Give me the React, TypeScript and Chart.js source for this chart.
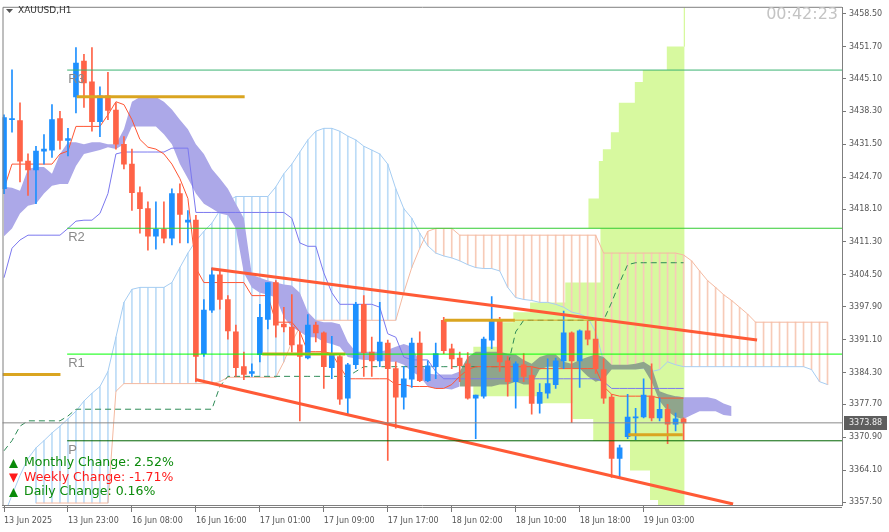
import React, { useEffect, useRef } from 'react';
import { Chart, registerables } from 'chart.js';
Chart.register(...registerables);

// ---------- DATA ----------
const open = [3422.3, 3436.6, 3436.4, 3428.0, 3426.2, 3430.1, 3430.3, 3436.8, 3432.3, 3441.3,
  3448.7, 3444.4, 3436.2, 3441.5, 3438.6, 3431.5, 3427.4, 3421.5, 3418.2, 3412.5,
  3413.9, 3412.1, 3421.3, 3415.4, 3415.8, 3388.2, 3397.2, 3404.5, 3399.4, 3392.7,
  3385.5, 3384.1, 3388.0, 3395.3, 3402.9, 3394.3, 3393.7, 3390.0, 3387.3, 3394.1,
  3392.5, 3385.3, 3387.6, 3379.0, 3385.9, 3398.4, 3388.5, 3386.7, 3390.4, 3385.1,
  3379.2, 3382.9, 3390.4, 3382.6, 3385.5, 3395.1, 3389.2, 3387.3, 3386.1, 3379.0,
  3379.4, 3391.0, 3395.3, 3386.7, 3382.4, 3385.9, 3383.7, 3377.9, 3380.0, 3381.8,
  3386.7, 3392.5, 3386.7, 3392.9, 3391.2, 3384.9, 3379.2, 3366.5, 3371.0, 3374.9,
  3375.1, 3379.4, 3374.9, 3376.7, 3373.6, 3374.7];
const high = [3437.6, 3446.9, 3440.1, 3429.5, 3431.1, 3433.5, 3439.7, 3438.3, 3434.8, 3451.5,
  3450.1, 3451.5, 3443.4, 3446.4, 3440.1, 3433.1, 3430.5, 3422.7, 3419.6, 3419.6,
  3419.6, 3422.3, 3423.3, 3417.8, 3416.8, 3399.4, 3405.9, 3405.3, 3400.2, 3394.1,
  3388.5, 3386.1, 3398.4, 3402.9, 3403.3, 3397.8, 3400.4, 3392.7, 3396.3, 3394.7,
  3392.7, 3391.8, 3388.0, 3386.2, 3398.8, 3400.2, 3391.6, 3398.8, 3391.0, 3386.5,
  3385.5, 3391.4, 3392.7, 3386.7, 3390.4, 3395.7, 3390.2, 3388.5, 3388.4, 3379.6,
  3391.6, 3400.0, 3395.7, 3387.6, 3386.5, 3388.2, 3385.5, 3382.0, 3387.1, 3387.3,
  3397.0, 3392.7, 3393.1, 3394.9, 3395.1, 3387.1, 3379.8, 3369.3, 3379.8, 3376.9,
  3383.0, 3386.1, 3379.0, 3377.7, 3375.9, 3374.9];
const low = [3421.3, 3434.0, 3423.7, 3420.9, 3419.2, 3427.4, 3428.8, 3430.5, 3429.1, 3438.0,
  3439.1, 3434.2, 3433.1, 3436.6, 3430.5, 3426.4, 3417.8, 3413.1, 3409.6, 3409.8,
  3411.1, 3410.7, 3411.1, 3411.1, 3382.4, 3387.6, 3396.7, 3397.4, 3391.2, 3383.5,
  3382.8, 3383.5, 3386.5, 3393.3, 3391.6, 3392.7, 3388.5, 3374.3, 3387.1, 3390.6,
  3381.0, 3383.0, 3377.7, 3375.7, 3385.1, 3383.5, 3383.5, 3385.5, 3366.1, 3372.8,
  3376.7, 3381.2, 3382.4, 3382.4, 3383.0, 3388.2, 3385.1, 3382.4, 3378.8, 3370.6,
  3379.0, 3389.2, 3384.5, 3379.4, 3376.9, 3382.4, 3375.7, 3375.9, 3379.0, 3381.0,
  3385.1, 3373.9, 3381.2, 3390.0, 3384.1, 3377.9, 3362.6, 3362.4, 3370.6, 3370.4,
  3374.9, 3374.3, 3374.3, 3369.6, 3372.2, 3370.4];
const close = [3437.0, 3436.8, 3428.0, 3426.2, 3430.1, 3430.5, 3436.6, 3432.3, 3432.7, 3448.3,
  3444.2, 3436.2, 3441.5, 3438.5, 3431.5, 3427.4, 3421.5, 3418.2, 3412.5, 3413.9,
  3412.1, 3421.3, 3417.0, 3415.8, 3387.6, 3397.2, 3404.5, 3399.4, 3392.9, 3385.3,
  3383.9, 3384.5, 3395.7, 3402.9, 3394.1, 3393.7, 3390.0, 3387.6, 3394.1, 3392.5,
  3385.5, 3388.0, 3378.8, 3385.9, 3398.4, 3388.4, 3386.7, 3390.6, 3385.1, 3379.2,
  3383.0, 3390.4, 3382.6, 3385.7, 3388.2, 3388.8, 3387.1, 3385.7, 3379.0, 3379.6,
  3391.2, 3395.3, 3386.5, 3382.4, 3386.1, 3383.5, 3377.9, 3380.2, 3382.0, 3386.7,
  3392.5, 3386.7, 3392.9, 3391.2, 3385.1, 3379.0, 3366.5, 3368.7, 3375.1, 3375.1,
  3379.6, 3374.9, 3376.7, 3373.6, 3374.7, 3373.88];

const tenkan = [3422.3, 3427.4, 3427.4, 3427.4, 3427.4, 3427.4, 3427.4, 3429.5, 3430.1, 3435.2,
  3435.2, 3435.2, 3435.2, 3437.6, 3440.3, 3439.7, 3436.6, 3432.5, 3430.9, 3430.5,
  3429.5, 3427.4, 3424.4, 3420.3, 3405.9, 3402.9, 3402.9, 3402.9, 3402.9, 3402.9,
  3402.9, 3400.2, 3400.2, 3400.2, 3394.7, 3394.7, 3394.7, 3392.7, 3388.6, 3388.6,
  3388.6, 3388.2, 3385.5, 3383.0, 3383.0, 3383.0, 3383.0, 3383.0, 3383.0, 3381.8,
  3381.8, 3381.4, 3381.4, 3381.4, 3381.0, 3381.0, 3381.8, 3383.5, 3384.9, 3385.5,
  3385.5, 3385.5, 3385.5, 3385.5, 3385.5, 3385.5, 3385.5, 3385.1, 3385.1, 3385.1,
  3385.1, 3385.1, 3385.1, 3385.1, 3385.1, 3381.4, 3379.8, 3379.4, 3379.4, 3379.4,
  3379.4, 3379.4, 3379.0, 3379.0, 3379.0, 3379.0];
const kijun = [3403.9, 3410.0, 3411.7, 3412.7, 3412.7, 3412.7, 3412.7, 3412.7, 3414.1, 3415.6,
  3415.8, 3415.8, 3417.2, 3421.3, 3429.5, 3429.9, 3429.9, 3429.9, 3429.9, 3429.9,
  3429.9, 3430.7, 3430.7, 3430.7, 3417.4, 3417.4, 3417.4, 3417.4, 3417.4, 3417.4,
  3417.4, 3417.4, 3417.4, 3417.4, 3417.4, 3417.4, 3416.2, 3411.1, 3410.4, 3410.4,
  3404.9, 3400.8, 3398.4, 3398.4, 3398.4, 3398.4, 3398.4, 3397.8, 3392.3, 3391.6,
  3387.5, 3386.9, 3386.9, 3386.9, 3384.5, 3383.0, 3383.0, 3383.0, 3383.0, 3383.0,
  3383.0, 3383.0, 3383.0, 3383.0, 3383.0, 3383.0, 3383.0, 3383.0, 3383.0, 3383.0,
  3383.0, 3383.0, 3383.0, 3383.0, 3383.0, 3382.4, 3381.0, 3381.0, 3381.0, 3381.0,
  3381.0, 3381.0, 3381.0, 3381.0, 3381.0, 3381.0];
const chikou = [3368.1, 3370.2, 3373.2, 3374.3, 3374.3, 3374.3, 3374.3, 3374.3, 3375.3, 3376.7,
  3376.7, 3376.7, 3376.7, 3376.7, 3376.7, 3376.7, 3376.7, 3376.7, 3376.7, 3376.7,
  3376.7, 3376.7, 3376.7, 3376.7, 3376.7, 3376.7, 3376.7, 3381.4, 3383.5, 3383.5,
  3383.5, 3383.5, 3383.5, 3383.5, 3383.5, 3383.5, 3383.5, 3383.5, 3383.5, 3383.5,
  3383.5, 3383.5, 3383.5, 3383.5, 3384.5, 3385.5, 3385.5, 3385.5, 3385.5, 3385.5,
  3385.5, 3385.5, 3385.5, 3385.5, 3385.5, 3385.5, 3385.5, 3385.5, 3385.5, 3385.5,
  3385.5, 3385.5, 3385.5, 3385.5, 3392.7, 3395.1, 3395.1, 3395.1, 3395.1, 3395.1,
  3395.1, 3395.1, 3395.1, 3395.1, 3395.1, 3395.1, 3398.8, 3402.9, 3406.6, 3407.0,
  3407.0, 3407.0, 3407.0, 3407.0, 3407.0, 3407.0];

const spanA = [3354.8, 3358.9, 3363.0, 3366.5, 3368.7, 3370.2, 3371.8, 3373.2, 3374.7, 3376.3,
  3378.4, 3380.0, 3381.4, 3384.5, 3391.6, 3398.8, 3401.5, 3401.9, 3401.9, 3401.9,
  3401.9, 3402.9, 3406.0, 3409.0, 3411.5, 3413.5, 3415.2, 3417.8, 3419.7, 3420.7,
  3420.7, 3420.7, 3420.7, 3420.7, 3422.7, 3425.4, 3427.4, 3429.9, 3432.4, 3434.2,
  3434.8, 3434.8, 3434.2, 3433.2, 3432.4, 3431.1, 3430.3, 3429.5, 3427.4, 3422.3,
  3418.2, 3416.2, 3413.1, 3410.5, 3409.0, 3408.4, 3408.0, 3407.4, 3406.6, 3406.0,
  3405.8, 3405.8, 3405.3, 3401.9, 3399.8, 3399.4, 3399.2, 3398.8, 3398.8, 3398.4,
  3397.8, 3396.8, 3396.4, 3395.7, 3392.7, 3386.5, 3385.1, 3385.1, 3385.1, 3385.1,
  3385.1, 3384.5, 3384.9, 3386.5, 3385.9, 3385.5, 3385.5, 3385.5, 3385.5, 3385.5,
  3385.5, 3385.5, 3385.5, 3385.5, 3385.5, 3385.5, 3385.5, 3385.5, 3385.5, 3385.5,
  3385.5, 3384.9, 3382.4, 3381.8];
const spanB = [null, null, null, null, 3357.3, 3357.3, 3357.3, 3357.3, 3357.3, 3357.3,
  3357.3, 3357.3, 3357.3, 3357.3, 3380.4, 3382.0, 3382.0, 3382.0, 3382.0, 3382.0,
  3382.0, 3382.0, 3382.0, 3382.0, 3382.0, 3382.0, 3382.0, 3382.4, 3383.3, 3383.3,
  3383.3, 3383.3, 3383.3, 3383.3, 3383.3, 3386.5, 3390.6, 3393.7, 3395.1, 3395.1,
  3395.1, 3395.1, 3395.1, 3395.1, 3395.1, 3395.1, 3395.1, 3395.1, 3395.1, 3395.1,
  3400.8, 3406.0, 3410.0, 3413.5, 3414.1, 3414.1, 3414.1, 3412.7, 3412.7, 3412.7,
  3412.7, 3412.7, 3412.7, 3412.7, 3412.7, 3412.7, 3412.7, 3412.7, 3412.7, 3412.7,
  3412.7, 3412.7, 3412.7, 3412.7, 3412.7, 3409.0, 3409.0, 3409.0, 3409.0, 3409.0,
  3409.0, 3409.0, 3409.0, 3409.0, 3409.0, 3408.6, 3407.4, 3405.3, 3403.3, 3401.9,
  3400.4, 3399.2, 3397.8, 3396.4, 3394.7, 3394.7, 3394.7, 3394.7, 3394.7, 3394.7,
  3394.7, 3394.7, 3394.7, 3394.7];

const cloudTop = [3422.7, 3422.5, 3421.9, 3426.4, 3426.8, 3426.8, 3425.4, 3429.5, 3431.9, 3431.9,
  3431.5, 3431.9, 3431.9, 3431.5, 3431.5, 3434.6, 3440.3, 3441.3, 3441.3, 3441.3,
  3440.3, 3438.7, 3436.6, 3434.6, 3431.5, 3429.5, 3426.4, 3424.4, 3422.3, 3419.2,
  3416.2, 3404.5, 3403.9, 3403.3, 3402.9, 3402.5, 3402.3, 3400.8, 3396.8, 3395.1,
  3394.7, 3394.7, 3394.3, 3390.6, 3388.6, 3388.6, 3388.6, 3388.6, 3389.0, 3389.6,
  3390.2, 3389.6, 3386.5, 3384.1, 3383.9, 3383.9, 3383.9, 3384.5, 3387.5, 3388.6,
  3388.6, 3388.6, 3388.6, 3388.2, 3388.0, 3386.9, 3386.1, 3387.5, 3388.0, 3388.0,
  3386.5, 3386.1, 3386.9, 3387.5, 3388.0, 3387.5, 3385.9, 3385.9, 3385.9, 3386.1,
  3386.5, 3385.5, 3380.4, 3379.8, 3379.4, 3379.2, 3379.2, 3379.2, 3379.2, 3378.8,
  3377.9, 3377.3];
const cloudBottom = [3412.5, 3414.1, 3417.2, 3418.8, 3419.2, 3421.3, 3422.9, 3423.3, 3423.3, 3427.0,
  3429.5, 3429.9, 3430.3, 3430.9, 3430.5, 3431.5, 3435.2, 3435.2, 3435.2, 3435.2,
  3433.6, 3431.5, 3427.4, 3424.4, 3421.3, 3419.2, 3418.2, 3417.2, 3416.8, 3414.1,
  3404.9, 3401.9, 3400.8, 3400.4, 3399.8, 3395.7, 3393.7, 3392.7, 3391.6, 3391.6,
  3390.6, 3390.2, 3389.6, 3387.5, 3387.2, 3386.9, 3386.9, 3386.9, 3386.5, 3386.5,
  3385.9, 3384.5, 3383.5, 3381.4, 3381.0, 3381.0, 3380.8, 3381.4, 3381.4, 3381.4,
  3381.4, 3381.4, 3381.8, 3381.8, 3382.4, 3381.8, 3381.8, 3384.9, 3385.5, 3385.5,
  3385.1, 3385.1, 3385.1, 3383.5, 3382.4, 3382.9, 3384.9, 3384.9, 3384.9, 3384.9,
  3385.1, 3382.4, 3378.4, 3376.3, 3375.1, 3374.7, 3375.5, 3376.3, 3376.3, 3376.3,
  3375.5, 3375.3];

// volume profile: row boundaries (top -> bottom) and left edge of each row (bar index)
const vpLevels = [3451.75, 3446.85, 3444.39, 3440.10, 3433.97, 3430.49, 3428.04, 3420.27, 3414.14, 3402.89,
  3398.80, 3396.75, 3394.71, 3389.60, 3379.37, 3377.94, 3374.67, 3370.17, 3364.04, 3357.91, 3356.7];
const vpLeft = [82.9, 79.9, 78.9, 76.9, 75.9, 74.9, 74.4, 73.1, 74.6, 70.2,
  65.8, 63.7, 62.1, 58.7, 67.1, 71.1, 73.7, 78.3, 80.8, 81.8];
const vpRight = 85.1;

const pivotNames = ['R3', 'R2', 'R1', 'P'];
const pivotValues = [3446.85, 3414.13, 3388.1, 3370.17];
const pivotStart = 7.9;
const bidPrice = 3373.88;

// orange levels: [price, fromIndex, toIndex, width]
const orangePrice = [3441.33, 3383.87, 3395.12, 3395.12, 3371.4, 3388.1];
const orangeFrom = [9.1, -0.2, 55.06, 63.9, 78.1, 32.3];
const orangeTo = [30.1, 7.06, 63.9, 75.4, 84.9, 42.7];
const orangeWidth = [3, 3, 3, 1, 3, 3];

// trend channel
const chanUpper = [{ x: 25.94, y: 3405.75 }, { x: 94.19, y: 3391.03 }];
const chanLower = [{ x: 23.94, y: 3382.85 }, { x: 91.19, y: 3357.09 }];

const xTickIdx = [0, 8, 16, 24, 32, 40, 48, 56, 64, 72, 80];
const xTickLabels = ['13 Jun 2025', '13 Jun 23:00', '16 Jun 08:00', '16 Jun 16:00', '17 Jun 01:00',
  '17 Jun 09:00', '17 Jun 17:00', '18 Jun 02:00', '18 Jun 10:00', '18 Jun 18:00', '19 Jun 03:00'];
const yTicks = [3458.5, 3451.7, 3445.1, 3438.3, 3431.5, 3424.7, 3418.1, 3411.3, 3404.5, 3397.9,
  3391.1, 3384.3, 3377.7, 3370.9, 3364.1, 3357.5];

const changeLabels = ['Monthly Change: 2.52%', 'Weekly Change: -1.71%', 'Daily Change: 0.16%'];
const changeUp = [true, false, true];

// ---------- COLORS ----------
const UP = '#1e90ff';
const DOWN = '#ff6347';

export default function App() {
  const ref = useRef<HTMLCanvasElement | null>(null);
  useEffect(() => {
    document.body.style.margin = '0';
    document.body.style.overflow = 'hidden';
    const canvas = ref.current!;
    const colors = open.map((o, i) => (close[i] >= o ? UP : DOWN));
    const pts = (arr: (number | null)[]) => arr.map((v, i) => ({ x: i, y: v }));

    const vpPoly: { x: number; y: number }[] = [{ x: vpRight, y: vpLevels[0] }];
    vpLeft.forEach((l, k) => {
      vpPoly.push({ x: l, y: vpLevels[k] });
      vpPoly.push({ x: l, y: vpLevels[k + 1] });
    });
    vpPoly.push({ x: vpRight, y: vpLevels[vpLevels.length - 1] });

    const hatch: any[] = [];
    const hatchColors: string[] = [];
    spanA.forEach((a, i) => {
      const b = spanB[i];
      if (a != null && b != null) {
        hatch.push({ x: i, y: [a, b] });
        hatchColors.push(a >= b ? '#bcdcf7' : '#f7cbb8');
      }
    });

    const purpleTop = cloudTop.map((v, i) => (i <= 57 || i >= 84 ? v : null));
    const purpleBot = cloudBottom.map((v, i) => (i <= 57 || i >= 84 ? v : null));
    const grayTop = cloudTop.map((v, i) => (i >= 57 && i <= 85 ? v : null));
    const grayBot = cloudBottom.map((v, i) => (i >= 57 && i <= 85 ? v : null));

    const line = (data: any[], color: string, width: number, order: number, extra: any = {}) => ({
      type: 'line', data, borderColor: color, borderWidth: width, pointRadius: 0, order, fill: false, tension: 0, ...extra,
    });

    const datasets: any[] = [];
    // objects on top
    pivotValues.forEach((v, k) => {
      const col = ['#3cb371', '#33cc33', '#00ff00', '#006400'][k];
      datasets.push(line([{ x: pivotStart, y: v }, { x: 105, y: v }], col, 1, 0));
    });
    datasets.push(line([{ x: -1, y: bidPrice }, { x: 105, y: bidPrice }], '#8a8a8a', 1, 0));
    datasets.push(line(chanUpper, '#ff5a36', 3, 0));
    datasets.push(line(chanLower, '#ff5a36', 3, 0));
    orangePrice.forEach((p, k) => {
      datasets.push(line([{ x: orangeFrom[k], y: p }, { x: orangeTo[k], y: p }], '#daa520', orangeWidth[k], 0.5));
    });
    // candles
    datasets.push({ type: 'bar', data: open.map((o, i) => ({ x: i, y: [o, close[i]] })), backgroundColor: colors,
      barThickness: 5, grouped: false, minBarLength: 1, order: 1 });
    datasets.push({ type: 'bar', data: low.map((l, i) => ({ x: i, y: [l, high[i]] })), backgroundColor: colors,
      barThickness: 1, grouped: false, order: 2 });
    // indicator lines
    datasets.push(line(pts(tenkan), '#ff5533', 1, 4));
    datasets.push(line(pts(kijun), '#7b78ef', 1, 4));
    datasets.push(line(pts(chikou), '#2e8b57', 1, 4, { borderDash: [6, 4] }));
    // filled cloud (purple and gray)
    datasets.push(line(pts(purpleTop), 'rgba(0,0,0,0)', 0, 8, { fill: '+1', backgroundColor: '#aca8e8' }));
    datasets.push(line(pts(purpleBot), 'rgba(0,0,0,0)', 0, 8));
    datasets.push(line(pts(grayTop), 'rgba(0,0,0,0)', 0, 7.5, { fill: '+1', backgroundColor: '#8fa58c' }));
    datasets.push(line(pts(grayBot), 'rgba(0,0,0,0)', 0, 7.5));
    // hatched cloud
    datasets.push(line(pts(spanA), '#a6cdf2', 1, 85));
    datasets.push(line(pts(spanB), '#f4b9a0', 1, 85));
    datasets.push({ type: 'bar', data: hatch, backgroundColor: hatchColors, barThickness: 1, grouped: false, order: 90 });
    // volume profile
    datasets.push(line(vpPoly, 'rgba(0,0,0,0)', 0, 100, { fill: 'shape', backgroundColor: '#d7f99f' }));
    datasets.push(line([{ x: vpRight, y: 3470 }, { x: vpRight, y: vpLevels[0] }], '#d7f99f', 1, 100));

    const textPlugin = {
      id: 'mt4text',
      afterDraw(chart: any) {
        const ctx = chart.ctx;
        const xs = chart.scales.x;
        const ys = chart.scales.y;
        const a = chart.chartArea;
        ctx.save();
        // frame
        ctx.strokeStyle = '#7f7f7f';
        ctx.lineWidth = 1;
        ctx.beginPath();
        ctx.moveTo(a.left + 0.5, a.bottom);
        ctx.lineTo(a.left + 0.5, a.top - 0.5);
        ctx.lineTo(a.right, a.top - 0.5);
        ctx.stroke();
        ctx.beginPath();
        ctx.moveTo(a.left, a.bottom + 2.5);
        ctx.lineTo(a.right, a.bottom + 2.5);
        ctx.stroke();
        // title
        ctx.fillStyle = '#555';
        ctx.beginPath();
        ctx.moveTo(6, 9); ctx.lineTo(13, 9); ctx.lineTo(9.5, 13); ctx.closePath(); ctx.fill();
        ctx.fillStyle = '#333';
        ctx.font = '9px "DejaVu Sans"';
        ctx.textBaseline = 'middle';
        ctx.textAlign = 'left';
        ctx.fillText('XAUUSD,H1', 18, 11);
        // clock
        ctx.fillStyle = '#c4c4c4';
        ctx.font = '16px "DejaVu Sans"';
        ctx.textAlign = 'right';
        ctx.fillText('00:42:23', 838, 15);
        // pivot labels
        ctx.textAlign = 'left';
        ctx.textBaseline = 'top';
        ctx.font = '13px "Liberation Sans"';
        ctx.fillStyle = '#8a8a8a';
        pivotNames.forEach((n, k) => {
          ctx.fillText(n, xs.getPixelForValue(pivotStart) + 1, ys.getPixelForValue(pivotValues[k]) + 3);
        });
        // change labels
        ctx.font = '12.5px "DejaVu Sans"';
        ctx.textBaseline = 'middle';
        changeLabels.forEach((t, k) => {
          const cy = 463 + k * 14.5;
          const col = changeUp[k] ? '#0a8a0a' : '#ff1a1a';
          ctx.fillStyle = col;
          ctx.beginPath();
          if (changeUp[k]) { ctx.moveTo(9, cy + 5); ctx.lineTo(18, cy + 5); ctx.lineTo(13.5, cy - 4); }
          else { ctx.moveTo(9, cy - 4); ctx.lineTo(18, cy - 4); ctx.lineTo(13.5, cy + 5); }
          ctx.closePath(); ctx.fill();
          ctx.fillText(t, 24, cy);
        });
        // bid price box
        const by = ys.getPixelForValue(bidPrice);
        ctx.fillStyle = '#5e5e5e';
        ctx.fillRect(a.right + 2, Math.round(by) - 7, 43, 14);
        ctx.fillStyle = '#f0f0f0';
        ctx.font = '8px "DejaVu Sans"';
        ctx.textAlign = 'left';
        ctx.fillText(bidPrice.toFixed(2), a.right + 7, by);
        ctx.restore();
      },
    };

    const chart = new Chart(canvas, {
      type: 'bar',
      data: { datasets },
      options: {
        animation: false,
        responsive: false,
        devicePixelRatio: 1,
        events: [],
        layout: { padding: { left: 2, top: 2, right: 0, bottom: 0 } },
        plugins: {
          legend: { display: false },
          tooltip: { enabled: false },
          filler: { drawTime: 'beforeDatasetDraw' },
        } as any,
        scales: {
          x: {
            type: 'linear', min: -0.1875, max: 104.8125, offset: false, position: 'bottom',
            afterBuildTicks: (s: any) => { s.ticks = xTickIdx.map((v) => ({ value: v })); },
            afterFit: (s: any) => { s.height = 27; },
            grid: { drawOnChartArea: false, drawTicks: true, tickLength: 7, color: '#777', offset: false },
            border: { display: true, color: '#7f7f7f' },
            ticks: {
              autoSkip: false, maxRotation: 0, minRotation: 0, align: 'start', padding: 4, color: '#555',
              font: { family: 'DejaVu Sans', size: 8 },
              callback: (v: any) => { const k = xTickIdx.indexOf(Number(v)); return k >= 0 ? xTickLabels[k] : ''; },
            },
          },
          y: {
            type: 'linear', min: 3356.89, max: 3459.73, position: 'right',
            afterBuildTicks: (s: any) => { s.ticks = yTicks.map((v) => ({ value: v })); },
            afterFit: (s: any) => { s.width = 47; },
            grid: { drawOnChartArea: false, drawTicks: true, tickLength: 4, color: '#777' },
            border: { display: true, color: '#7f7f7f' },
            ticks: {
              padding: 3, color: '#555', font: { family: 'DejaVu Sans', size: 8 },
              callback: (v: any) => Number(v).toFixed(2),
            },
          },
        },
      } as any,
      plugins: [textPlugin],
    });
    return () => chart.destroy();
  }, []);
  return (
    <div style={{ width: 889, height: 532, background: '#fff' }}>
      <canvas ref={ref} width={889} height={532} style={{ display: 'block' }} />
    </div>
  );
}
